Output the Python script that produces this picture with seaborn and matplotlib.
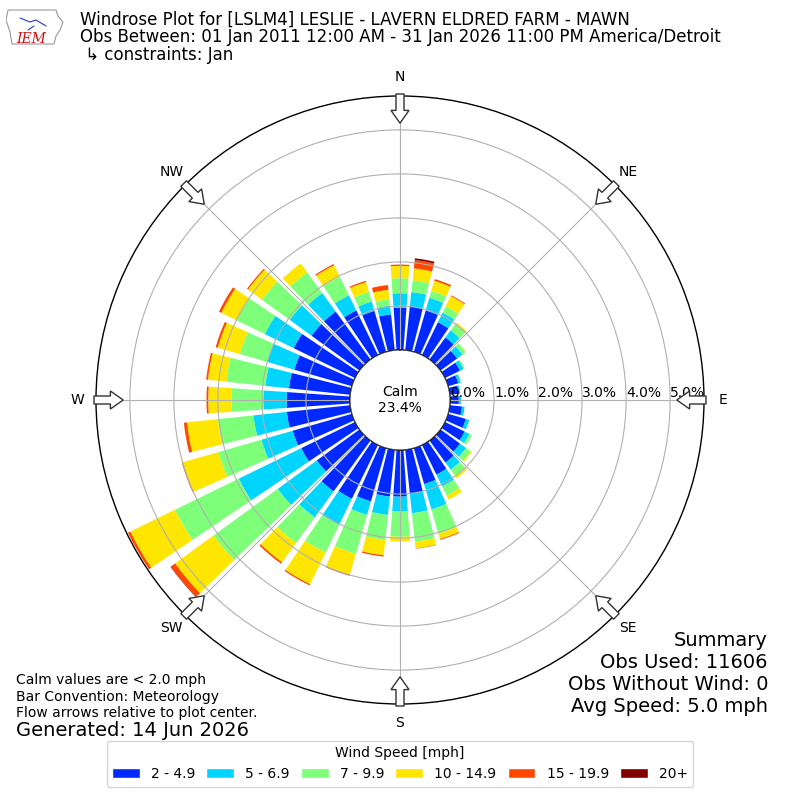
import numpy as np
import matplotlib
matplotlib.use("Agg")
import matplotlib.pyplot as plt
from matplotlib.patches import Circle, FancyArrow, Patch, Polygon
import seaborn as sns


# Wind directions (bar centres, degrees clockwise from north)
directions = list(range(0, 360, 10))

# Frequency (% of obs) per direction for each speed class
spd_2_5 = [0.96, 1.00, 0.98, 0.83, 0.62, 0.47, 0.38, 0.24, 0.20, 0.20, 0.28, 0.42,
           0.50, 0.55, 0.62, 0.75, 0.85, 1.00, 1.06, 1.07, 1.26, 1.36, 1.43, 1.20,
           1.36, 1.40, 1.45, 1.44, 1.40, 1.36, 1.55, 1.35, 1.35, 1.13, 0.97, 0.82]
spd_5_7 = [0.33, 0.33, 0.30, 0.24, 0.20, 0.15, 0.09, 0.06, 0.04, 0.05, 0.06, 0.08,
           0.12, 0.17, 0.20, 0.30, 0.60, 0.45, 0.34, 0.42, 0.32, 0.66, 0.73, 1.10,
           1.58, 0.74, 0.76, 0.53, 0.54, 0.65, 0.73, 0.61, 0.52, 0.38, 0.22, 0.20]
spd_7_10 = [0.34, 0.27, 0.16, 0.16, 0.18, 0.09, 0.03, 0.01, 0.00, 0.00, 0.00, 0.01,
            0.06, 0.13, 0.18, 0.23, 0.57, 0.65, 0.57, 0.57, 0.92, 0.70, 0.72, 1.80,
            1.61, 1.02, 0.81, 0.72, 0.89, 0.64, 0.71, 0.78, 0.58, 0.47, 0.23, 0.15]
spd_10_15 = [0.28, 0.27, 0.24, 0.26, 0.04, 0.01, 0.00, 0.00, 0.00, 0.00, 0.00, 0.00,
             0.00, 0.03, 0.06, 0.10, 0.13, 0.15, 0.11, 0.35, 0.50, 0.80, 0.54, 1.08,
             1.13, 0.84, 0.71, 0.53, 0.42, 0.52, 0.39, 0.39, 0.25, 0.29, 0.23, 0.21]
spd_15_20 = [0.03, 0.19, 0.04, 0.02, 0.00, 0.00, 0.00, 0.00, 0.00, 0.00, 0.00, 0.00,
             0.00, 0.00, 0.00, 0.00, 0.02, 0.01, 0.00, 0.03, 0.02, 0.03, 0.04, 0.12,
             0.06, 0.02, 0.07, 0.04, 0.04, 0.05, 0.06, 0.03, 0.00, 0.03, 0.03, 0.11]
spd_20p = [0.00, 0.04, 0.00, 0.00, 0.00, 0.00, 0.00, 0.00, 0.00, 0.00, 0.00, 0.00,
           0.00, 0.00, 0.00, 0.00, 0.00, 0.00, 0.00, 0.00, 0.00, 0.00, 0.00, 0.01,
           0.00, 0.00, 0.00, 0.00, 0.00, 0.00, 0.00, 0.00, 0.00, 0.00, 0.00, 0.00]

speed_labels = ["2 - 4.9", "5 - 6.9", "7 - 9.9", "10 - 14.9", "15 - 19.9", "20+"]
calm_pct = 23.4
rticks = [0, 1, 2, 3, 4, 5]
compass = ["N", "NE", "E", "SE", "S", "SW", "W", "NW"]

title_lines = [
    "Windrose Plot for [LSLM4] LESLIE - LAVERN ELDRED FARM - MAWN",
    "Obs Between: 01 Jan 2011 12:00 AM - 31 Jan 2026 11:00 PM America/Detroit",
    " \u21b3 constraints: Jan",
]
notes = ["Calm values are < 2.0 mph", "Bar Convention: Meteorology",
         "Flow arrows relative to plot center."]
summary = ["Summary", "Obs Used: 11606", "Obs Without Wind: 0", "Avg Speed: 5.0 mph"]


sns.set_style("white")
plt.rcParams["font.family"] = ["DejaVu Sans"]
plt.rcParams["text.color"] = "black"
plt.rcParams["xtick.color"] = "black"
plt.rcParams["ytick.color"] = "black"

# jet colours sampled at 1/6 ... 6/6, like the IEM rose
colors = sns.color_palette(plt.cm.jet(np.arange(1, 7) / 6.0))

fig = plt.figure(figsize=(8, 8), dpi=100)
ax = fig.add_axes([0.12, 0.12, 0.76, 0.76], projection="polar")
ax.set_theta_zero_location("N")
ax.set_theta_direction(-1)

theta = np.deg2rad(directions)
width = np.deg2rad(10) * 0.8
base = np.zeros(len(directions))
for vals, col, lab in zip([spd_2_5, spd_5_7, spd_7_10, spd_10_15, spd_15_20, spd_20p],
                          colors, speed_labels):
    vals = np.array(vals)
    ax.bar(theta, vals, width=width, bottom=base, color=col, label=lab,
           linewidth=0, zorder=1)
    base = base + vals

# hole in the middle for the calm percentage
ax.set_rorigin(-1.136)
ax.set_ylim(0, 5.77)
ax.set_yticks(rticks)
ax.set_yticklabels(["%.1f%%" % v for v in rticks], fontsize=10)
ax.set_rlabel_position(90)
ax.set_thetagrids(range(0, 360, 45), labels=compass, fontsize=10)
ax.tick_params(axis="x", pad=3)
ax.grid(True, color="#b0b0b0", linewidth=0.8)
ax.set_axisbelow(False)
ax.spines["polar"].set_color("black")
ax.spines["polar"].set_linewidth(1.0)

calm = Circle((0.5, 0.5), 50 / 608, transform=ax.transAxes, facecolor="white",
              edgecolor="black", linewidth=1.0, zorder=5)
ax.add_artist(calm)
ax.text(0.5, 0.5, "Calm\n%.1f%%" % calm_pct, transform=ax.transAxes,
        ha="center", va="center", fontsize=10, zorder=6)

# flow arrows at the compass points
r_tail, r_tip = 0.3825, 0.346
for ang in range(0, 360, 45):
    s, c = np.sin(np.deg2rad(ang)), np.cos(np.deg2rad(ang))
    arr = FancyArrow(0.5 + r_tail * s, 0.5 + r_tail * c,
                     -(r_tail - r_tip) * s, -(r_tail - r_tip) * c,
                     width=0.01, head_width=0.0225, head_length=0.016,
                     length_includes_head=True, facecolor="white",
                     edgecolor="#333333", linewidth=1.0,
                     transform=fig.transFigure, zorder=10)
    fig.patches.append(arr)

# header
for i, line in enumerate(title_lines):
    fig.text(0.1, 1 - (20 + 17.5 * i) / 800, line, fontsize=12, va="center", ha="left")

# IEM logo, rough
lax = fig.add_axes([6 / 800, 1 - 50 / 800, 58 / 800, 44 / 800])
lax.set_xlim(0, 58)
lax.set_ylim(0, 44)
lax.axis("off")
lax.add_patch(Polygon([[2, 40], [50, 40], [52, 34], [57, 28], [54, 20], [50, 14],
                       [48, 6], [6, 6], [4, 18], [0, 30]],
                      closed=True, facecolor="white", edgecolor="#999999", lw=0.8))
lax.plot([14, 24, 30, 40], [32, 28, 30, 24], color="#1f3fbf", lw=0.8)
lax.plot([22, 28], [20, 24], color="#1f3fbf", lw=0.8)
lax.text(10, 11, "IEM", color="#cc1111", fontsize=10, fontstyle="italic",
         family="DejaVu Serif", ha="left", va="center")

# footnotes
for i, line in enumerate(notes):
    fig.text(16 / 800, 1 - (680 + 16.5 * i) / 800, line, fontsize=10, va="center")
fig.text(16 / 800, 1 - 730 / 800, "Generated: 14 Jun 2026", fontsize=14, va="center")

for i, line in enumerate(summary):
    fig.text(768 / 800, 1 - (640 + 22 * i) / 800, line, fontsize=14,
             ha="right", va="center")

handles = [Patch(facecolor=col, label=lab) for col, lab in zip(colors, speed_labels)]
fig.legend(handles=handles, loc="lower center", bbox_to_anchor=(0.5, 0.008),
           ncol=6, title="Wind Speed [mph]", fontsize=10, title_fontsize=10,
           frameon=True, edgecolor="#cccccc", handlelength=2.0,
           columnspacing=0.8, handletextpad=0.8)

fig.savefig("out.png", dpi=100)
